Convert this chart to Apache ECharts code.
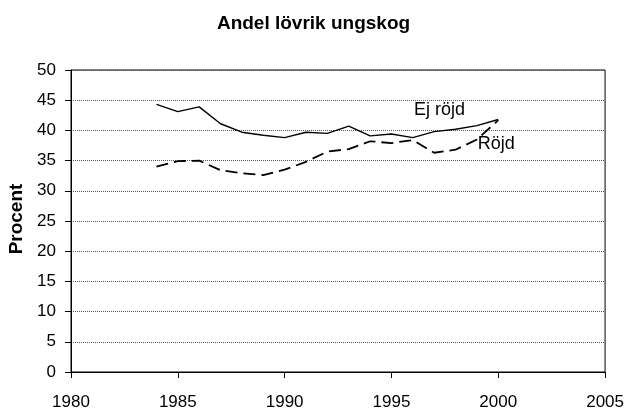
<!DOCTYPE html>
<html>
<head>
<meta charset="utf-8">
<script src="https://cdn.jsdelivr.net/npm/echarts@6/dist/echarts.min.js"></script>
<style>
  html, body { margin: 0; padding: 0; background: #fff; }
  #chart { width: 627px; height: 417px; }
</style>
</head>
<body>
<div id="chart"></div>
<script>
// år och andel lövrik ungskog (%)
var years = [1984, 1985, 1986, 1987, 1988, 1989, 1990, 1991, 1992, 1993, 1994, 1995, 1996, 1997, 1998, 1999, 2000]
var ejRojd = [44.3, 43.1, 43.9, 41.1, 39.7, 39.2, 38.8, 39.7, 39.5, 40.7, 39.1, 39.4, 38.8, 39.8, 40.2, 40.8, 41.8]
var rojd = [34.0, 34.9, 35.0, 33.4, 32.9, 32.6, 33.5, 34.8, 36.5, 36.9, 38.2, 37.9, 38.4, 36.3, 36.8, 38.5, 41.7]

function pairs(vals) {
  return years.map(function (y, i) { return [y, vals[i]] })
}

var font = 'Liberation Sans, Arial, sans-serif'
var chart = echarts.init(document.getElementById('chart'), null, { renderer: 'canvas' })

chart.setOption({
  backgroundColor: '#fff',
  animation: false,
  title: {
    text: 'Andel lövrik ungskog',
    left: 'center',
    top: 9,
    textStyle: { color: '#000', fontSize: 19, fontWeight: 'bold', fontFamily: font }
  },
  graphic: [{
    type: 'text',
    x: 17,
    y: 219,
    rotation: Math.PI / 2,
    style: {
      text: 'Procent',
      fill: '#000',
      font: 'bold 19px ' + font,
      textAlign: 'center',
      textVerticalAlign: 'middle'
    }
  }],
  grid: {
    left: 71,
    right: 21,
    top: 70,
    bottom: 45,
    show: true,
    borderColor: '#000',
    borderWidth: 1
  },
  xAxis: {
    type: 'value',
    min: 1980,
    max: 2005,
    interval: 5,
    axisLine: { lineStyle: { color: '#000', width: 1 } },
    axisTick: { show: true, length: 6, lineStyle: { color: '#000' } },
    axisLabel: {
      color: '#000', fontSize: 17, fontFamily: font, margin: 22,
      formatter: function (v) { return String(v) }
    },
    splitLine: { show: false }
  },
  yAxis: {
    type: 'value',
    min: 0,
    max: 50,
    interval: 5,
    axisLine: { show: true, lineStyle: { color: '#000', width: 1 } },
    axisTick: { show: true, length: 6, lineStyle: { color: '#000' } },
    axisLabel: { color: '#000', fontSize: 17, fontFamily: font, margin: 15 },
    splitLine: { show: true, lineStyle: { color: '#555', width: 1, type: [1, 1] } }
  },
  series: [
    {
      name: 'Ej röjd',
      type: 'line',
      data: pairs(ejRojd),
      showSymbol: false,
      lineStyle: { color: '#000', width: 1.4 },
      markPoint: {
        symbol: 'circle',
        symbolSize: 0,
        data: [{ coord: [1997.25, 43.4] }],
        label: { show: true, position: 'inside', formatter: 'Ej röjd', color: '#000', fontSize: 18, fontFamily: font }
      }
    },
    {
      name: 'Röjd',
      type: 'line',
      data: pairs(rojd),
      showSymbol: false,
      lineStyle: { color: '#000', width: 1.8, type: [12, 6] },
      markPoint: {
        symbol: 'circle',
        symbolSize: 0,
        data: [{ coord: [1999.9, 37.7] }],
        label: { show: true, position: 'inside', formatter: 'Röjd', color: '#000', fontSize: 18, fontFamily: font }
      }
    }
  ]
})
</script>
</body>
</html>
